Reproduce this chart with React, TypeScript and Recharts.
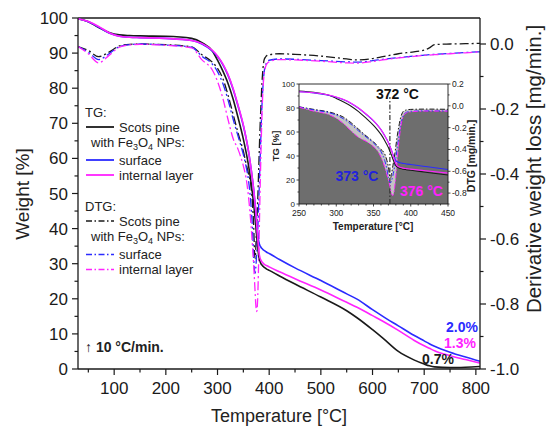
import React from 'react';
import { LineChart, ComposedChart, Line, Area, XAxis, YAxis, ReferenceLine } from 'recharts';

// ---------- data ----------
const TEMPS = [30, 50, 70, 90, 110, 130, 150, 200, 250, 270, 290, 300, 310, 320, 330, 340, 350,
  355, 360, 365, 368, 370, 372, 373, 374, 376, 378, 380, 382, 384, 386, 388, 390, 393, 396, 400,
  420, 450, 500, 550, 570, 600, 620, 650, 680, 700, 710, 720, 750, 780, 808];

const TG_PINE = [99.8, 98.9, 97.3, 95.9, 95.2, 95.0, 94.9, 94.8,
  94.2, 93.0, 90.6, 88.0, 85.0, 81.5, 77.0, 71.5, 65.5,
  62.0, 58.0, 53.0, 49.5, 47.0, 44.0, 42.5, 41.0, 37.5, 34.5, 32.0,
  30.8, 30.0, 29.6, 29.3, 29.0, 28.7, 28.4, 28.1,
  26.5, 24.2, 20.5, 16.6, 14.6, 11.2, 8.8, 5.0, 2.6,
  1.4, 0.9, 0.6, 0.4, 0.5, 0.7];

const TG_SURFACE = [99.8, 98.9, 97.4, 95.7, 94.8, 94.5, 94.4, 94.2,
  93.6, 92.6, 90.6, 89.0, 86.8, 83.8, 79.8, 74.8, 69.3,
  66.0, 62.0, 57.0, 53.7, 51.2, 48.3, 46.8, 45.2, 41.5, 38.3, 36.2,
  35.2, 34.7, 34.3, 34.0, 33.8, 33.5, 33.2, 32.9,
  31.2, 28.8, 25.2, 21.4, 19.9, 16.9, 15.0, 12.3, 9.6,
  8.0, 7.2, 6.5, 4.8, 3.4, 2.2];

const TG_INTERNAL = [99.8, 99.0, 97.6, 95.8, 94.8, 94.5, 94.4, 94.2,
  93.6, 92.7, 90.8, 89.2, 87.0, 84.0, 80.0, 75.0, 69.5,
  66.0, 62.0, 57.0, 53.5, 51.0, 48.0, 46.5, 45.0, 41.0, 37.0, 33.5,
  31.8, 31.0, 30.5, 30.2, 29.9, 29.6, 29.4, 29.1,
  27.7, 25.7, 22.5, 19.0, 17.6, 15.2, 13.6, 11.0, 8.2,
  6.6, 5.9, 5.2, 3.8, 2.7, 1.7];

const DTG_PINE = [-0.008, -0.02, -0.039, -0.025, -0.006, -0.001, 0.0, -0.002,
  -0.009, -0.033, -0.056, -0.075, -0.105, -0.155, -0.215, -0.275, -0.33,
  -0.365, -0.4, -0.44, -0.5, -0.56, -0.65, -0.66, -0.63, -0.55, -0.47, -0.37,
  -0.27, -0.19, -0.12, -0.075, -0.05, -0.04, -0.035, -0.033,
  -0.03, -0.032, -0.037, -0.046, -0.049, -0.045, -0.039, -0.03, -0.024,
  -0.019, -0.012, -0.002, 0.0, 0.001, 0.002];

const DTG_SURFACE = [-0.008, -0.025, -0.048, -0.03, -0.008, -0.002, 0.0, -0.003,
  -0.01, -0.038, -0.062, -0.085, -0.12, -0.17, -0.23, -0.285, -0.34,
  -0.375, -0.42, -0.5, -0.58, -0.66, -0.7, -0.705, -0.69, -0.64, -0.57, -0.48,
  -0.38, -0.28, -0.19, -0.13, -0.09, -0.065, -0.055, -0.05,
  -0.046, -0.047, -0.051, -0.055, -0.056, -0.051, -0.047, -0.042, -0.037,
  -0.034, -0.033, -0.032, -0.029, -0.026, -0.024];

const DTG_INTERNAL = [-0.008, -0.03, -0.058, -0.035, -0.01, -0.003, -0.001, -0.004,
  -0.012, -0.049, -0.08, -0.115, -0.165, -0.23, -0.29, -0.325, -0.375,
  -0.41, -0.47, -0.56, -0.63, -0.68, -0.74, -0.77, -0.8, -0.823, -0.77, -0.64,
  -0.48, -0.34, -0.22, -0.14, -0.095, -0.07, -0.06, -0.055,
  -0.048, -0.049, -0.053, -0.058, -0.059, -0.054, -0.049, -0.043, -0.038,
  -0.035, -0.034, -0.033, -0.03, -0.027, -0.024];

const X_TICKS = [50, 100, 150, 200, 250, 300, 350, 400, 450, 500, 550, 600, 650, 700, 750, 800];
const LEFT_TICKS = [0, 5, 10, 15, 20, 25, 30, 35, 40, 45, 50, 55, 60, 65, 70, 75, 80, 85, 90, 95, 100];
const RIGHT_TICKS = [-1, -0.9, -0.8, -0.7, -0.6, -0.5, -0.4, -0.3, -0.2, -0.1, 0];

const INSET_X_TICKS = [250, 260, 270, 280, 290, 300, 310, 320, 330, 340, 350, 360, 370, 380, 390, 400, 410, 420, 430, 440, 450];
const INSET_LEFT_TICKS = [0, 10, 20, 30, 40, 50, 60, 70, 80, 90, 100];
const INSET_RIGHT_TICKS = [-0.9, -0.8, -0.7, -0.6, -0.5, -0.4, -0.3, -0.2, -0.1, 0, 0.1, 0.2];

const FINAL_LABELS = ['2.0%', '1.3%', '0.7%'];
const PEAK_LABELS = ['372 °C', '373 °C', '376 °C'];

// ---------- styles ----------
const FONT = 'Liberation Sans, Arial, Helvetica, sans-serif';
const AXIS = '#1a1a1a';
const BLACK = '#1a1a1a';
const BLUE = '#2b2bff';
const MAGENTA = '#ff22ff';
const DASHDOT = '9 3 2 3';

const table = TEMPS.map((T, i) => ({
  T,
  tgPine: TG_PINE[i],
  tgSurf: TG_SURFACE[i],
  tgInt: TG_INTERNAL[i],
  dPine: DTG_PINE[i],
  dSurf: DTG_SURFACE[i],
  dInt: DTG_INTERNAL[i],
}));
const insetTable = table.filter((d) => d.T >= 250 && d.T <= 450);

// ---------- ticks ----------
const mainXTick = (p: any) => {
  const v = p.payload.value;
  const major = v % 100 === 0;
  return (
    <g>
      <line x1={p.x} y1={p.y} x2={p.x} y2={p.y + (major ? 6 : 3.5)} stroke={AXIS} strokeWidth={1.2} />
      {major ? (
        <text x={p.x} y={p.y + 25} textAnchor="middle" fontSize={17} fontFamily={FONT} fill={AXIS}>{v}</text>
      ) : null}
    </g>
  );
};
const mainLeftTick = (p: any) => {
  const v = p.payload.value;
  const major = v % 10 === 0;
  return (
    <g>
      <line x1={p.x} y1={p.y} x2={p.x - (major ? 6 : 3.5)} y2={p.y} stroke={AXIS} strokeWidth={1.2} />
      {major ? (
        <text x={p.x - 10} y={p.y + 6} textAnchor="end" fontSize={17} fontFamily={FONT} fill={AXIS}>{v}</text>
      ) : null}
    </g>
  );
};
const mainRightTick = (p: any) => {
  const v = p.payload.value;
  const major = Math.round(v * 10) % 2 === 0;
  return (
    <g>
      <line x1={p.x} y1={p.y} x2={p.x + (major ? 6 : 3.5)} y2={p.y} stroke={AXIS} strokeWidth={1.2} />
      {major ? (
        <text x={p.x + 10} y={p.y + 6} textAnchor="start" fontSize={17} fontFamily={FONT} fill={AXIS}>{v.toFixed(1)}</text>
      ) : null}
    </g>
  );
};
const insetXTick = (p: any) => {
  const v = p.payload.value;
  const major = v % 50 === 0;
  return (
    <g>
      <line x1={p.x} y1={p.y} x2={p.x} y2={p.y + (major ? 2.5 : 1.5)} stroke={AXIS} strokeWidth={0.8} />
      {major ? (
        <text x={p.x} y={p.y + 12} textAnchor="middle" fontSize={8.5} fontFamily={FONT} fill={AXIS}>{v}</text>
      ) : null}
    </g>
  );
};
const insetLeftTick = (p: any) => {
  const v = p.payload.value;
  const major = v % 20 === 0;
  return (
    <g>
      <line x1={p.x} y1={p.y} x2={p.x - (major ? 2.5 : 1.5)} y2={p.y} stroke={AXIS} strokeWidth={0.8} />
      {major ? (
        <text x={p.x - 4} y={p.y + 2.5} textAnchor="end" fontSize={8} fontFamily={FONT} fill={AXIS}>{v}</text>
      ) : null}
    </g>
  );
};
const insetRightTick = (p: any) => {
  const v = p.payload.value;
  const major = Math.round(v * 10) % 2 === 0;
  return (
    <g>
      <line x1={p.x} y1={p.y} x2={p.x + (major ? 2.5 : 1.5)} y2={p.y} stroke={AXIS} strokeWidth={0.8} />
      {major ? (
        <text x={p.x + 4} y={p.y + 3} textAnchor="start" fontSize={8.5} fontFamily={FONT} fill={AXIS}>{v.toFixed(1)}</text>
      ) : null}
    </g>
  );
};

const FeText = ({ x, y }: { x: number; y: number }) => (
  <text x={x} y={y} fontSize={13} fontFamily={FONT} fill="#222">
    with Fe<tspan dy={3} fontSize={9}>3</tspan><tspan dy={-3}>O</tspan><tspan dy={3} fontSize={9}>4</tspan><tspan dy={-3}> NPs:</tspan>
  </text>
);

const LegendRow = ({ y, color, dashed, label }: { y: number; color: string; dashed?: boolean; label: string }) => (
  <g>
    <line x1={86} y1={y} x2={114} y2={y} stroke={color} strokeWidth={dashed ? 1.3 : 1.8} strokeDasharray={dashed ? '6 2.5 1.5 2.5' : undefined} />
    <text x={119} y={y + 4.5} fontSize={13} fontFamily={FONT} fill="#222">{label}</text>
  </g>
);

export default function App() {
  return (
    <div style={{ position: 'absolute', left: 0, top: 0, width: 546, height: 427, background: '#fff' }}>
      <LineChart width={546} height={427} data={table} margin={{ top: 18, right: 0, bottom: 0, left: 0 }}>
        <XAxis type="number" dataKey="T" domain={[30, 808]} allowDataOverflow ticks={X_TICKS} interval={0}
          tick={mainXTick} tickLine={false} tickSize={0} tickMargin={0} height={58}
          axisLine={{ stroke: AXIS, strokeWidth: 1.3 }} />
        <YAxis yAxisId="left" domain={[0, 100]} allowDataOverflow ticks={LEFT_TICKS} interval={0}
          tick={mainLeftTick} tickLine={false} tickSize={0} tickMargin={0} width={78}
          axisLine={{ stroke: AXIS, strokeWidth: 1.3 }} />
        <YAxis yAxisId="right" orientation="right" domain={[-1, 0.08]} allowDataOverflow ticks={RIGHT_TICKS} interval={0}
          tick={mainRightTick} tickLine={false} tickSize={0} tickMargin={0} width={66}
          axisLine={{ stroke: AXIS, strokeWidth: 1.3 }} />
        <ReferenceLine yAxisId="left" y={100} stroke={AXIS} strokeWidth={1.3} />
        <Line yAxisId="right" dataKey="dPine" type="monotone" stroke={BLACK} strokeWidth={1.3} strokeDasharray={DASHDOT} dot={false} isAnimationActive={false} />
        <Line yAxisId="right" dataKey="dSurf" type="monotone" stroke={BLUE} strokeWidth={1.3} strokeDasharray={DASHDOT} dot={false} isAnimationActive={false} />
        <Line yAxisId="right" dataKey="dInt" type="monotone" stroke={MAGENTA} strokeWidth={1.3} strokeDasharray={DASHDOT} dot={false} isAnimationActive={false} />
        <Line yAxisId="left" dataKey="tgPine" type="monotone" stroke={BLACK} strokeWidth={1.6} dot={false} isAnimationActive={false} />
        <Line yAxisId="left" dataKey="tgSurf" type="monotone" stroke={BLUE} strokeWidth={1.6} dot={false} isAnimationActive={false} />
        <Line yAxisId="left" dataKey="tgInt" type="monotone" stroke={MAGENTA} strokeWidth={1.6} dot={false} isAnimationActive={false} />
      </LineChart>

      <div style={{ position: 'absolute', left: 265, top: 80 }}>
        <ComposedChart width={220} height={155} data={insetTable} margin={{ top: 4, right: 0, bottom: 0, left: 0 }}>
          <XAxis type="number" dataKey="T" domain={[250, 450]} allowDataOverflow ticks={INSET_X_TICKS} interval={0}
            tick={insetXTick} tickLine={false} tickSize={0} tickMargin={0} height={31}
            axisLine={{ stroke: AXIS, strokeWidth: 0.9 }} />
          <YAxis yAxisId="l" domain={[0, 100]} allowDataOverflow ticks={INSET_LEFT_TICKS} interval={0}
            tick={insetLeftTick} tickLine={false} tickSize={0} tickMargin={0} width={34}
            axisLine={{ stroke: AXIS, strokeWidth: 0.9 }} />
          <YAxis yAxisId="r" orientation="right" domain={[-0.9, 0.2]} allowDataOverflow ticks={INSET_RIGHT_TICKS} interval={0}
            tick={insetRightTick} tickLine={false} tickSize={0} tickMargin={0} width={37}
            axisLine={{ stroke: AXIS, strokeWidth: 0.9 }} />
          <Area yAxisId="r" dataKey="dPine" type="monotone" baseValue="dataMin" fill="#c4c4c4" fillOpacity={1} stroke="none" isAnimationActive={false} />
          <Area yAxisId="r" dataKey="dSurf" type="monotone" baseValue="dataMin" fill="#c4c4c4" fillOpacity={1} stroke="none" isAnimationActive={false} />
          <Area yAxisId="r" dataKey="dInt" type="monotone" baseValue="dataMin" fill="#6e6e6e" fillOpacity={1} stroke="none" isAnimationActive={false} />
          <ReferenceLine yAxisId="l" y={100} stroke={AXIS} strokeWidth={0.9} />
          <ReferenceLine yAxisId="r" segment={[{ x: 372, y: -0.9 }, { x: 372, y: 0.08 }]} stroke="#333" strokeWidth={1.2} strokeDasharray="5 2 1.5 2" />
          <Line yAxisId="r" dataKey="dPine" type="monotone" stroke={BLACK} strokeWidth={1} strokeDasharray="5 2 1.5 2" dot={false} isAnimationActive={false} />
          <Line yAxisId="r" dataKey="dSurf" type="monotone" stroke={BLUE} strokeWidth={1} strokeDasharray="5 2 1.5 2" dot={false} isAnimationActive={false} />
          <Line yAxisId="r" dataKey="dInt" type="monotone" stroke={MAGENTA} strokeWidth={1} strokeDasharray="5 2 1.5 2" dot={false} isAnimationActive={false} />
          <Line yAxisId="l" dataKey="tgPine" type="monotone" stroke={BLACK} strokeWidth={1.1} dot={false} isAnimationActive={false} />
          <Line yAxisId="l" dataKey="tgSurf" type="monotone" stroke={BLUE} strokeWidth={1.1} dot={false} isAnimationActive={false} />
          <Line yAxisId="l" dataKey="tgInt" type="monotone" stroke={MAGENTA} strokeWidth={1.1} dot={false} isAnimationActive={false} />
        </ComposedChart>
      </div>

      <svg width={546} height={427} style={{ position: 'absolute', left: 0, top: 0, pointerEvents: 'none' }}>
        {/* axis titles */}
        <text transform="translate(28.5,194) rotate(-90)" textAnchor="middle" fontSize={19} fontFamily={FONT} fill="#222">Weight [%]</text>
        <text x={279} y={422} textAnchor="middle" fontSize={18} fontFamily={FONT} fill="#222">Temperature [°C]</text>
        <text transform="translate(541,169) rotate(-90)" textAnchor="middle" fontSize={20.5} fontFamily={FONT} fill="#222">Derivative weight loss [mg/min.]</text>

        {/* legend */}
        <text x={85} y={117} fontSize={13} fontFamily={FONT} fill="#222">TG:</text>
        <LegendRow y={127} color={BLACK} label="Scots pine" />
        <FeText x={91} y={147} />
        <LegendRow y={160} color={BLUE} label="surface" />
        <LegendRow y={175} color={MAGENTA} label="internal layer" />
        <text x={85} y={211} fontSize={13} fontFamily={FONT} fill="#222">DTG:</text>
        <LegendRow y={221} color={BLACK} dashed label="Scots pine" />
        <FeText x={91} y={241} />
        <LegendRow y={254.5} color={BLUE} dashed label="surface" />
        <LegendRow y={269.5} color={MAGENTA} dashed label="internal layer" />

        <text x={85} y={351.5} fontSize={14} fontFamily={FONT} fill="#222">↑ <tspan fontWeight="bold">10 °C/min.</tspan></text>

        {/* residual mass labels */}
        <text x={478} y={331.5} textAnchor="end" fontSize={14} fontWeight="bold" fontFamily={FONT} fill={BLUE}>{FINAL_LABELS[0]}</text>
        <text x={476} y={347.5} textAnchor="end" fontSize={14} fontWeight="bold" fontFamily={FONT} fill={MAGENTA}>{FINAL_LABELS[1]}</text>
        <text x={454} y={364} textAnchor="end" fontSize={14} fontWeight="bold" fontFamily={FONT} fill={BLACK}>{FINAL_LABELS[2]}</text>

        {/* inset titles */}
        <text transform="translate(279,146) rotate(-90)" textAnchor="middle" fontSize={9.5} fontWeight="bold" fontFamily={FONT} fill="#222">TG [%]</text>
        <text x={373} y={230} textAnchor="middle" fontSize={10} fontWeight="bold" fontFamily={FONT} fill="#222">Temperature [°C]</text>
        <text transform="translate(475,156) rotate(-90)" textAnchor="middle" fontSize={10.5} fontWeight="bold" fontFamily={FONT} fill="#222">DTG [mg/min.]</text>

        {/* peak labels */}
        <text x={376} y={99} fontSize={14} fontWeight="bold" fontFamily={FONT} fill="#111">{PEAK_LABELS[0]}</text>
        <text x={335.5} y={181} fontSize={14} fontWeight="bold" fontFamily={FONT} fill="#2222dd">{PEAK_LABELS[1]}</text>
        <text x={400} y={196} fontSize={14} fontWeight="bold" fontFamily={FONT} fill={MAGENTA}>{PEAK_LABELS[2]}</text>
      </svg>
    </div>
  );
}
